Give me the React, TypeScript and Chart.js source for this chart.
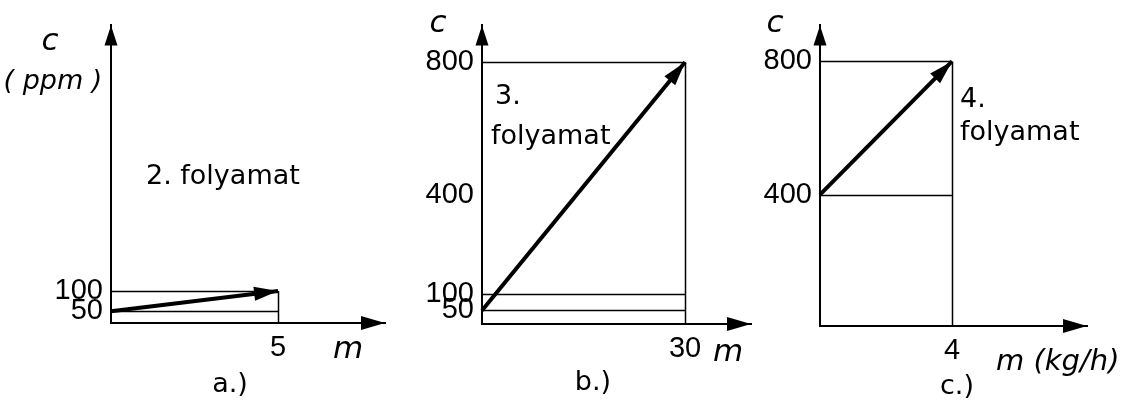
import React, { useEffect, useRef } from "react";
import { Chart, registerables } from "chart.js";

Chart.register(...registerables);

// ---------- Panel a.) : 2. folyamat ----------
const aArrowM = [0, 5];
const aArrowC = [50, 100];
const aGuideC = [100, 50];
const aGuideM = [5];
const aXTicks = [5];
const aYTicks = [50, 100];

// ---------- Panel b.) : 3. folyamat ----------
const bArrowM = [0, 30];
const bArrowC = [50, 800];
const bGuideC = [800, 100, 50];
const bGuideM = [30];
const bXTicks = [30];
const bYTicks = [50, 100, 400, 800];

// ---------- Panel c.) : 4. folyamat ----------
const cArrowM = [0, 4];
const cArrowC = [400, 800];
const cGuideC = [800, 400];
const cGuideM = [4];
const cXTicks = [4];
const cYTicks = [400, 800];

const FONT = "'DejaVu Sans', sans-serif";
const TICK_FONT = "'Liberation Sans', sans-serif";
const H = 401;

type TextItem = {
  t: string;
  x: number;
  y: number;
  italic?: boolean;
  size?: number;
  align?: CanvasTextAlign;
};

interface Panel {
  left: number;
  width: number;
  area: { l: number; r: number; t: number; b: number };
  xMin: number;
  xMax: number;
  yMin: number;
  yMax: number;
  arrowM: number[];
  arrowC: number[];
  guideC: number[];
  guideM: number[];
  xTicks: number[];
  yTicks: number[];
  texts: TextItem[];
}

const panels: Panel[] = [
  {
    left: 0,
    width: 395,
    area: { l: 111, r: 385, t: 17, b: 323 },
    xMin: 0,
    xMax: 8.2,
    yMin: 21.4,
    yMax: 750,
    arrowM: aArrowM,
    arrowC: aArrowC,
    guideC: aGuideC,
    guideM: aGuideM,
    xTicks: aXTicks,
    yTicks: aYTicks,
    texts: [
      { t: "c", x: 50, y: 42, italic: true, size: 31 },
      { t: "( ppm )", x: 53, y: 82, italic: true, size: 27 },
      { t: "2. folyamat", x: 146, y: 177, align: "left" },
      { t: "m", x: 348, y: 350, italic: true, size: 31 },
      { t: "a.)", x: 230, y: 385 },
    ],
  },
  {
    left: 380,
    width: 390,
    area: { l: 102, r: 371, t: 15, b: 324 },
    xMin: 0,
    xMax: 39.75,
    yMin: 9,
    yMax: 911,
    arrowM: bArrowM,
    arrowC: bArrowC,
    guideC: bGuideC,
    guideM: bGuideM,
    xTicks: bXTicks,
    yTicks: bYTicks,
    texts: [
      { t: "c", x: 438, y: 24, italic: true, size: 31 },
      { t: "3.", x: 495, y: 97, align: "left" },
      { t: "folyamat", x: 491, y: 137, align: "left" },
      { t: "m", x: 728, y: 353, italic: true, size: 31 },
      { t: "b.)", x: 593, y: 383 },
    ],
  },
  {
    left: 750,
    width: 381,
    area: { l: 70, r: 337, t: 17, b: 326 },
    xMin: 0,
    xMax: 8.09,
    yMin: 6,
    yMax: 908,
    arrowM: cArrowM,
    arrowC: cArrowC,
    guideC: cGuideC,
    guideM: cGuideM,
    xTicks: cXTicks,
    yTicks: cYTicks,
    texts: [
      { t: "c", x: 775, y: 24, italic: true, size: 31 },
      { t: "4.", x: 960, y: 100, align: "left" },
      { t: "folyamat", x: 960, y: 133, align: "left" },
      { t: "m (kg/h)", x: 996, y: 362, italic: true, size: 29, align: "left" },
      { t: "c.)", x: 957, y: 387 },
    ],
  },
];

function head(
  ctx: CanvasRenderingContext2D,
  tx: number,
  ty: number,
  ang: number,
  len: number,
  half: number
) {
  const bx = tx - Math.cos(ang) * len;
  const by = ty - Math.sin(ang) * len;
  const nx = -Math.sin(ang) * half;
  const ny = Math.cos(ang) * half;
  ctx.beginPath();
  ctx.moveTo(tx, ty);
  ctx.lineTo(bx + nx, by + ny);
  ctx.lineTo(bx - nx, by - ny);
  ctx.closePath();
  ctx.fill();
}

function PanelChart({ p }: { p: Panel }) {
  const ref = useRef<HTMLCanvasElement>(null);

  useEffect(() => {
    const canvas = ref.current;
    if (!canvas) return;

    const plugin = {
      id: "sketch",
      beforeDatasetsDraw(chart: any) {
        const { ctx, chartArea: a, scales } = chart;
        const x = scales.x;
        const y = scales.y;
        const mEnd = Math.max(...p.guideM);
        const cTop = Math.max(...p.guideC);
        ctx.save();
        ctx.strokeStyle = "#000";
        ctx.lineWidth = 1.5;
        ctx.beginPath();
        for (const c of p.guideC) {
          const py = Math.round(y.getPixelForValue(c)) + 0.5;
          ctx.moveTo(a.left, py);
          ctx.lineTo(x.getPixelForValue(mEnd), py);
        }
        for (const m of p.guideM) {
          const px = Math.round(x.getPixelForValue(m)) + 0.5;
          ctx.moveTo(px, a.bottom);
          ctx.lineTo(px, y.getPixelForValue(cTop));
        }
        ctx.stroke();
        ctx.restore();
      },
      afterDraw(chart: any) {
        const { ctx, chartArea: a, scales } = chart;
        const x = scales.x;
        const y = scales.y;
        ctx.save();
        ctx.fillStyle = "#000";
        // axis arrowheads
        head(ctx, a.left, a.top, -Math.PI / 2, 20, 6.5);
        head(ctx, a.right, a.bottom, 0, 24, 7);
        // data arrowhead
        const n = p.arrowM.length;
        const x1 = x.getPixelForValue(p.arrowM[n - 2]);
        const y1 = y.getPixelForValue(p.arrowC[n - 2]);
        const x2 = x.getPixelForValue(p.arrowM[n - 1]);
        const y2 = y.getPixelForValue(p.arrowC[n - 1]);
        head(ctx, x2, y2, Math.atan2(y2 - y1, x2 - x1), 24, 7);
        // texts
        ctx.textBaseline = "middle";
        for (const t of p.texts) {
          ctx.font = `${t.italic ? "italic " : ""}${t.size ?? 27}px ${FONT}`;
          ctx.textAlign = t.align ?? "center";
          ctx.fillText(t.t, t.x - p.left, t.y);
        }
        ctx.restore();
      },
    };

    const tickFont = { family: TICK_FONT, size: 29 };

    const chart = new Chart(canvas, {
      type: "scatter",
      data: {
        datasets: [
          {
            data: p.arrowM.map((m, i) => ({ x: m, y: p.arrowC[i] })),
            showLine: true,
            borderColor: "#000",
            backgroundColor: "#000",
            borderWidth: 4,
            pointRadius: 0,
            clip: false as any,
          },
        ],
      },
      options: {
        responsive: false,
        animation: false,
        devicePixelRatio: 1,
        events: [],
        layout: {
          padding: { left: 0, top: p.area.t, right: p.width - p.area.r, bottom: 0 },
        },
        plugins: { legend: { display: false }, tooltip: { enabled: false } },
        scales: {
          x: {
            type: "linear",
            min: p.xMin,
            max: p.xMax,
            grid: { display: false, drawTicks: false },
            border: { display: true, color: "#000", width: 2 },
            ticks: { font: tickFont, color: "#000", padding: 8, autoSkip: false, maxRotation: 0 },
            afterBuildTicks: (s: any) => {
              s.ticks = p.xTicks.map((v) => ({ value: v }));
            },
            afterFit: (s: any) => {
              s.height = H - p.area.b;
            },
          },
          y: {
            type: "linear",
            min: p.yMin,
            max: p.yMax,
            grid: { display: false, drawTicks: false },
            border: { display: true, color: "#000", width: 2 },
            ticks: { font: tickFont, color: "#000", padding: 8, autoSkip: false },
            afterBuildTicks: (s: any) => {
              s.ticks = p.yTicks.map((v) => ({ value: v }));
            },
            afterFit: (s: any) => {
              s.width = p.area.l;
            },
          },
        },
      } as any,
      plugins: [plugin],
    });

    return () => chart.destroy();
  }, [p]);

  return (
    <canvas
      ref={ref}
      width={p.width}
      height={H}
      style={{ position: "absolute", left: p.left, top: 0, width: p.width, height: H }}
    />
  );
}

export default function App() {
  return (
    <div
      style={{
        position: "absolute",
        left: 0,
        top: 0,
        width: 1131,
        height: H,
        background: "#fff",
        overflow: "hidden",
      }}
    >
      {panels.map((p, i) => (
        <PanelChart key={i} p={p} />
      ))}
    </div>
  );
}
